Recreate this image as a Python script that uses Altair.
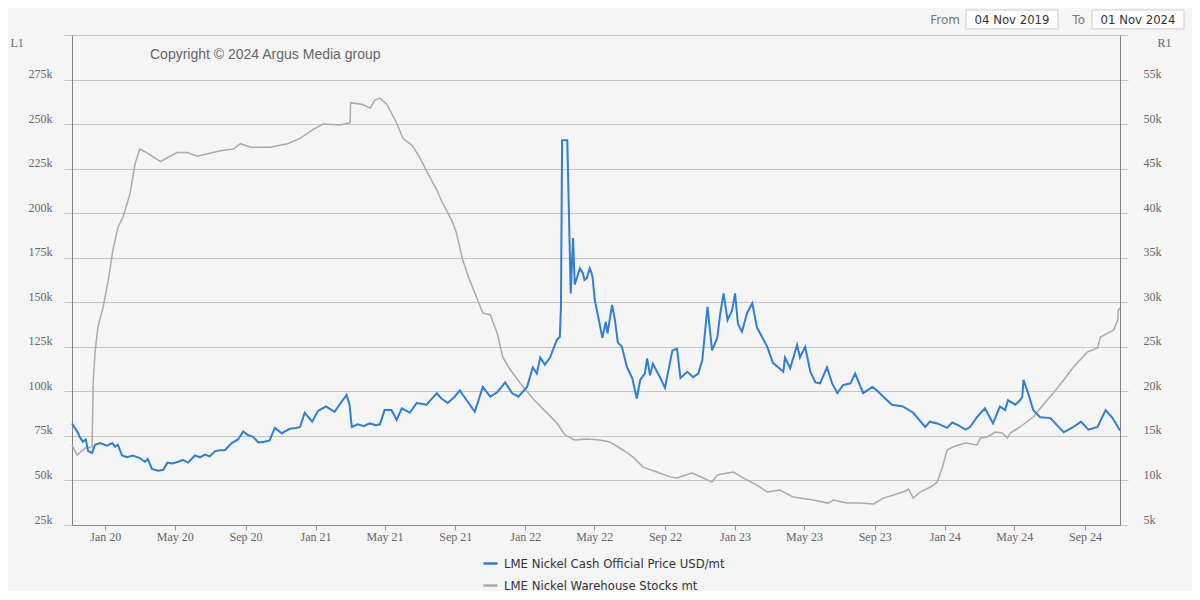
import altair as alt
import pandas as pd

PRICE_NAME = "LME Nickel Cash Official Price USD/mt"
STOCK_NAME = "LME Nickel Warehouse Stocks mt"

price_dates = [
    "2019-11-04", "2019-11-14", "2019-11-18", "2019-11-23", "2019-11-28", "2019-12-02", "2019-12-09",
    "2019-12-14", "2019-12-23", "2020-01-04", "2020-01-13", "2020-01-18", "2020-01-23", "2020-01-30",
    "2020-02-08", "2020-02-18", "2020-03-01", "2020-03-10", "2020-03-15", "2020-03-22", "2020-04-02",
    "2020-04-11", "2020-04-18", "2020-04-27", "2020-05-07", "2020-05-15", "2020-05-24", "2020-06-05",
    "2020-06-14", "2020-06-22", "2020-07-01", "2020-07-10", "2020-07-18", "2020-07-27", "2020-08-08",
    "2020-08-19", "2020-08-28", "2020-09-05", "2020-09-14", "2020-09-23", "2020-09-30", "2020-10-13",
    "2020-10-22", "2020-11-03", "2020-11-17", "2020-11-28", "2020-12-05", "2020-12-13", "2020-12-26",
    "2021-01-05", "2021-01-19", "2021-02-03", "2021-02-17", "2021-02-24", "2021-03-01", "2021-03-05",
    "2021-03-15", "2021-03-26", "2021-04-05", "2021-04-16", "2021-04-23", "2021-05-01", "2021-05-13",
    "2021-05-22", "2021-05-31", "2021-06-14", "2021-06-26", "2021-07-13", "2021-07-31", "2021-08-08",
    "2021-08-19", "2021-08-31", "2021-09-09", "2021-09-21", "2021-10-05", "2021-10-19", "2021-11-01",
    "2021-11-13", "2021-11-27", "2021-12-09", "2021-12-20", "2022-01-04", "2022-01-14", "2022-01-21",
    "2022-01-27", "2022-02-04", "2022-02-13", "2022-02-25", "2022-03-02", "2022-03-04", "2022-03-06",
    "2022-03-15", "2022-03-21", "2022-03-25", "2022-03-28", "2022-04-06", "2022-04-11", "2022-04-14",
    "2022-04-18", "2022-04-23", "2022-04-26", "2022-04-28", "2022-05-02", "2022-05-10", "2022-05-15",
    "2022-05-21", "2022-05-24", "2022-06-01", "2022-06-06", "2022-06-11", "2022-06-18", "2022-06-27",
    "2022-07-06", "2022-07-14", "2022-07-20", "2022-07-28", "2022-08-01", "2022-08-06", "2022-08-11",
    "2022-08-24", "2022-09-01", "2022-09-14", "2022-09-22", "2022-09-28", "2022-10-10", "2022-10-20",
    "2022-10-29", "2022-11-05", "2022-11-14", "2022-11-22", "2022-12-01", "2022-12-06", "2022-12-12",
    "2022-12-19", "2022-12-27", "2023-01-01", "2023-01-06", "2023-01-13", "2023-01-22", "2023-01-31",
    "2023-02-08", "2023-02-17", "2023-02-26", "2023-03-08", "2023-03-17", "2023-03-26", "2023-03-29",
    "2023-04-07", "2023-04-19", "2023-04-24", "2023-05-03", "2023-05-12", "2023-05-21", "2023-05-29",
    "2023-06-10", "2023-06-19", "2023-06-28", "2023-07-08", "2023-07-21", "2023-07-29", "2023-08-12",
    "2023-08-28", "2023-09-05", "2023-09-16", "2023-10-01", "2023-10-20", "2023-11-07", "2023-11-28",
    "2023-12-06", "2023-12-19", "2024-01-05", "2024-01-14", "2024-01-24", "2024-02-06", "2024-02-14",
    "2024-02-26", "2024-03-11", "2024-03-25", "2024-04-06", "2024-04-15", "2024-04-20", "2024-05-03",
    "2024-05-11", "2024-05-15", "2024-05-17", "2024-05-25", "2024-06-03", "2024-06-15", "2024-07-03",
    "2024-07-26", "2024-08-12", "2024-08-25", "2024-09-07", "2024-09-23", "2024-10-07", "2024-10-19",
    "2024-11-01",
]
price_values = [
    16400, 15400, 14800, 14350, 14600, 13300, 13100,
    14000, 14200, 13900, 14200, 13800, 14000, 12800,
    12600, 12800, 12500, 12100, 12400, 11300, 11100,
    11200, 12000, 11900, 12100, 12300, 12000, 12800,
    12600, 12900, 12700, 13300, 13400, 13400, 14200,
    14600, 15500, 15100, 14900, 14300, 14300, 14500,
    15900, 15300, 15800, 15900, 16000, 17600, 16600,
    17800, 18300, 17700, 19000, 19600, 18500, 16000,
    16300, 16100, 16400, 16200, 16300, 17900, 17900,
    16800, 18100, 17600, 18700, 18500, 19800, 19200,
    18700, 19400, 20100, 19000, 17700, 20500, 19400,
    19900, 21000, 19800, 19400, 20500, 22700, 22000,
    23800, 23000, 23800, 25800, 26100, 29500, 48200,
    48200, 31000, 37200, 32000, 33800, 33300, 32500,
    32700, 33800, 33300, 32800, 30200, 27700, 26000,
    27800, 26500, 29700, 28000, 25500, 25000, 22700,
    21500, 19200, 21300, 22000, 23700, 21800, 23100,
    21500, 20400, 24600, 24800, 21500, 22200, 21600,
    22000, 23500, 29500, 24600, 26000, 28600, 31000,
    28000, 29100, 31000, 27600, 26700, 28800, 29900,
    27200, 26100, 25000, 23200, 22700, 22200, 23800,
    22600, 25200, 23800, 25000, 22200, 21000, 20900,
    22700, 20900, 19800, 20700, 20900, 22000, 19800,
    20500, 20100, 19400, 18500, 18300, 17600, 16000,
    16600, 16400, 15900, 16500, 16200, 15700, 16000,
    17100, 18100, 16400, 18300, 17900, 19000, 18500,
    19000, 19400, 21300, 19800, 17900, 17100, 17000,
    15400, 16000, 16600, 15700, 16000, 17900, 17000,
    15600,
]

stock_dates = [
    "2019-11-04", "2019-11-13", "2019-11-27", "2019-12-09", "2019-12-11", "2019-12-14", "2019-12-19",
    "2019-12-28", "2020-01-06", "2020-01-14", "2020-01-23", "2020-02-01", "2020-02-13", "2020-02-22",
    "2020-03-01", "2020-03-13", "2020-04-06", "2020-05-05", "2020-05-22", "2020-06-09", "2020-07-19",
    "2020-08-11", "2020-08-23", "2020-09-10", "2020-10-14", "2020-11-13", "2020-12-05", "2020-12-28",
    "2021-01-14", "2021-02-13", "2021-02-27", "2021-03-02", "2021-03-03", "2021-03-24", "2021-04-06",
    "2021-04-14", "2021-04-23", "2021-05-05", "2021-05-22", "2021-06-02", "2021-06-18", "2021-07-01",
    "2021-07-15", "2021-07-31", "2021-08-10", "2021-08-26", "2021-09-03", "2021-09-14", "2021-09-26",
    "2021-10-08", "2021-10-19", "2021-11-01", "2021-11-13", "2021-11-23", "2021-12-06", "2021-12-23",
    "2022-01-14", "2022-02-08", "2022-02-25", "2022-03-11", "2022-03-28", "2022-04-18", "2022-05-10",
    "2022-05-28", "2022-06-20", "2022-07-07", "2022-07-25", "2022-08-18", "2022-09-10", "2022-09-22",
    "2022-10-18", "2022-11-07", "2022-11-22", "2022-12-01", "2022-12-29", "2023-01-15", "2023-02-08",
    "2023-02-26", "2023-03-20", "2023-04-12", "2023-05-17", "2023-06-12", "2023-06-21", "2023-07-15",
    "2023-08-07", "2023-08-30", "2023-09-16", "2023-10-04", "2023-10-25", "2023-10-30", "2023-11-07",
    "2023-11-19", "2023-12-07", "2023-12-19", "2023-12-28", "2024-01-05", "2024-01-19", "2024-02-06",
    "2024-02-26", "2024-03-03", "2024-03-15", "2024-03-29", "2024-04-10", "2024-04-19", "2024-04-24",
    "2024-05-11", "2024-06-03", "2024-06-20", "2024-07-08", "2024-07-26", "2024-08-12", "2024-09-05",
    "2024-09-23", "2024-09-28", "2024-10-21", "2024-10-28", "2024-10-29", "2024-11-01",
]
stock_values = [
    69900, 64300, 68200, 68800, 106000, 121500, 136000,
    147000, 162000, 179000, 192000, 198000, 211000, 228000,
    236000, 234000, 229000, 234000, 234000, 232000, 235000,
    236000, 239000, 237000, 237000, 239000, 242000, 247000,
    250000, 249500, 250600, 250800, 262000, 261000, 259000,
    263500, 264600, 261000, 250600, 242000, 238000, 231500,
    222500, 213000, 205700, 196000, 189000, 173700, 162500,
    153000, 144000, 142900, 132700, 119000, 112000, 104700,
    96000, 87800, 82200, 75500, 72700, 73300, 72700,
    71600, 67100, 63200, 57500, 54700, 52000, 51400,
    54200, 51400, 49100, 53100, 54700, 51400, 47400,
    43500, 44600, 40700, 39000, 37300, 39000, 37300,
    37300, 36800, 40100, 41800, 44100, 45200, 40100,
    43500, 46300, 49100, 57500, 67100, 69300, 71000,
    69900, 73800, 74400, 77200, 76600, 73800, 76600,
    80000, 85600, 92300, 99100, 106400, 113700, 122000,
    124300, 130500, 134400, 140000, 145700, 146800,
]

left_ticks = list(range(25000, 300001, 25000))
right_ticks = list(range(5000, 60001, 5000))
x_tick_months = [(y, m) for y in range(2020, 2025) for m in (1, 5, 9)]

price_df = pd.DataFrame({"date": price_dates, "value": price_values, "series": PRICE_NAME})
stock_df = pd.DataFrame({"date": stock_dates, "value": stock_values, "series": STOCK_NAME})

GREY_TXT = "#666666"
SERIF = "Liberation Serif"
SANS = "DejaVu Sans"

x_scale = alt.Scale(
    type="utc",
    domain=[alt.DateTime(year=2019, month=11, date=4, utc=True),
            alt.DateTime(year=2024, month=11, date=1, utc=True)],
)
x_axis = alt.Axis(
    title=None,
    values=[alt.DateTime(year=y, month=m, date=1, utc=True) for y, m in x_tick_months],
    format="%b %y",
    labelFont=SERIF, labelFontSize=12, labelColor=GREY_TXT,
    labelPadding=1, tickSize=5, tickColor="#999999",
    domainColor="#888888", grid=False, labelOverlap=False,
)

color_scale = alt.Scale(domain=[PRICE_NAME, STOCK_NAME], range=["#2f7ed8", "#aaaaaa"])
legend = alt.Legend(
    orient="none", legendX=410, legendY=520, direction="vertical", title=None,
    symbolType="stroke", symbolSize=196, symbolStrokeWidth=2.5,
    labelFont=SANS, labelFontSize=11.7, labelColor="#333333", labelLimit=0,
    rowPadding=6, labelOffset=5,
)

left_axis = alt.Axis(
    title="L1", titleAngle=0, titleX=-62, titleY=7, titleAlign="left", titleBaseline="middle",
    titleFont=SERIF, titleFontSize=12, titleFontWeight="normal", titleColor=GREY_TXT,
    values=left_ticks,
    labelExpr="datum.value >= 300000 ? '' : (datum.value / 1000) + 'k'",
    labelFont=SERIF, labelFontSize=12, labelColor=GREY_TXT, labelPadding=12, labelOffset=-6,
    tickSize=8, tickColor="#c4c4c4", domainColor="#808080",
    grid=True, gridColor="#c4c4c4",
)
right_axis = alt.Axis(
    orient="right",
    title="R1", titleAngle=0, titleX=37, titleY=7, titleAlign="left", titleBaseline="middle",
    titleFont=SERIF, titleFontSize=12, titleFontWeight="normal", titleColor=GREY_TXT,
    values=right_ticks,
    labelExpr="datum.value >= 60000 ? '' : (datum.value / 1000) + 'k'",
    labelFont=SERIF, labelFontSize=12, labelColor=GREY_TXT, labelPadding=15, labelOffset=-6,
    tickSize=8, tickColor="#c4c4c4", domainColor="#808080",
    grid=False,
)

stocks = alt.Chart(stock_df).mark_line(strokeWidth=1.5).encode(
    x=alt.X("date:T", scale=x_scale, axis=x_axis),
    y=alt.Y("value:Q", scale=alt.Scale(domain=[25000, 300000], nice=False, zero=False), axis=left_axis),
    color=alt.Color("series:N", scale=color_scale, legend=legend),
)
price = alt.Chart(price_df).mark_line(strokeWidth=2).encode(
    x=alt.X("date:T", scale=x_scale),
    y=alt.Y("value:Q", scale=alt.Scale(domain=[5000, 60000], nice=False, zero=False), axis=right_axis),
    color=alt.Color("series:N", scale=color_scale, legend=legend),
)

lines = alt.layer(stocks, price).resolve_scale(y="independent")

one = alt.Data(values=[{"k": 1}])
copyright_txt = alt.Chart(one).mark_text(
    text="Copyright © 2024 Argus Media group", align="left", baseline="middle",
    font="Liberation Sans", fontSize=14, color=GREY_TXT,
).encode(x=alt.value(78), y=alt.value(20))

box_from = alt.Chart(one).mark_rect(fill="#ffffff", stroke="#cccccc", strokeWidth=1).encode(
    x=alt.value(894), x2=alt.value(986), y=alt.value(-25), y2=alt.value(-6))
box_to = alt.Chart(one).mark_rect(fill="#ffffff", stroke="#cccccc", strokeWidth=1).encode(
    x=alt.value(1020), x2=alt.value(1112), y=alt.value(-25), y2=alt.value(-6))
txt_from = alt.Chart(one).mark_text(text="From", align="right", baseline="middle",
                                    font=SANS, fontSize=12, color="#777777").encode(
    x=alt.value(888), y=alt.value(-15.5))
txt_to = alt.Chart(one).mark_text(text="To", align="right", baseline="middle",
                                  font=SANS, fontSize=12, color="#777777").encode(
    x=alt.value(1013), y=alt.value(-15.5))
val_from = alt.Chart(one).mark_text(text="04 Nov 2019", align="center", baseline="middle",
                                    font=SANS, fontSize=11.7, color="#333333").encode(
    x=alt.value(940), y=alt.value(-15.5))
val_to = alt.Chart(one).mark_text(text="01 Nov 2024", align="center", baseline="middle",
                                  font=SANS, fontSize=11.7, color="#333333").encode(
    x=alt.value(1066), y=alt.value(-15.5))

chart = alt.layer(
    lines, copyright_txt, box_from, box_to, txt_from, txt_to, val_from, val_to
).properties(
    width=1048, height=490,
    autosize=alt.AutoSizeParams(type="none"),
    padding={"left": 64, "top": 27, "right": 72, "bottom": 66},
    background="#f5f5f5",
).configure_view(stroke=None)

chart.save("out.html", embed_options={"renderer": "svg", "actions": False})
